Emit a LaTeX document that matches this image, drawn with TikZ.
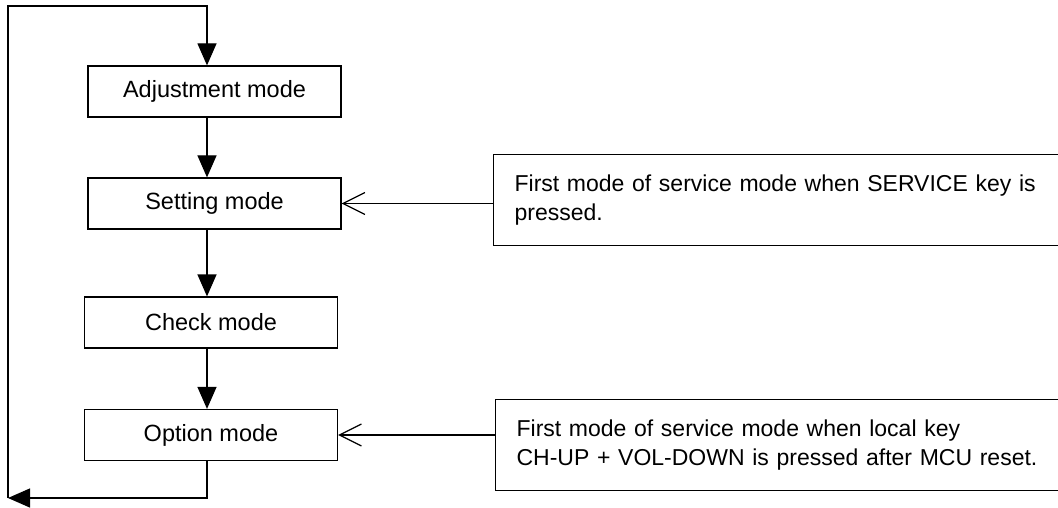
\documentclass[tikz,border=0pt]{standalone}
\usepackage{fontspec}
\setmainfont{Liberation Sans}
\usetikzlibrary{arrows.meta}
\begin{document}
\begin{tikzpicture}[x=1pt,y=-1pt,
  modebox/.style={draw, line width=1.2pt, minimum width=253pt, minimum height=51pt, inner sep=0pt, font=\fontsize{23.5}{28}\selectfont},
  notebox/.style={draw, line width=1.2pt, anchor=north west, minimum height=91pt, text width=560pt, inner xsep=21pt, inner ysep=0pt, align=left, font=\fontsize{23}{29}\selectfont},
  flow/.style={line width=1.2pt, -{Triangle[length=22pt,width=19pt]}},
  feed/.style={line width=1.2pt, -{Straight Barb[length=22pt,width=22pt,line width=1.2pt]}}
]
\useasboundingbox (0,0) rectangle (1058,508);
\node[modebox] (adj) at (214.5,91.5) {Adjustment mode};
\node[modebox] (set) at (214.5,203.5) {Setting mode};
\node[modebox] (chk) at (211,322.5) {Check mode};
\node[modebox] (opt) at (211,435) {Option mode};
\coordinate (xl) at (207,0);
\coordinate (tl) at (8,6);
\coordinate (bl) at (8,498);
\node[notebox] (n1) at (493,154) {First mode of service mode when SERVICE key is\\pressed.};
\node[notebox] (n2) at (495,399) {First mode of service mode when local key\\CH-UP + VOL-DOWN is pressed after MCU reset.};
\draw[flow] (adj.south -| xl) -- (set.north -| xl);
\draw[flow] (set.south -| xl) -- (chk.north -| xl);
\draw[flow] (chk.south -| xl) -- (opt.north -| xl);
\draw[flow] (opt.south -| xl) |- (bl);
\draw[flow] (bl) -- (tl) -| (adj.north -| xl);
\draw[feed] (n1.west |- set.east) -- (set.east);
\draw[feed] (n2.west |- opt.east) -- (opt.east);
\end{tikzpicture}
\end{document}
